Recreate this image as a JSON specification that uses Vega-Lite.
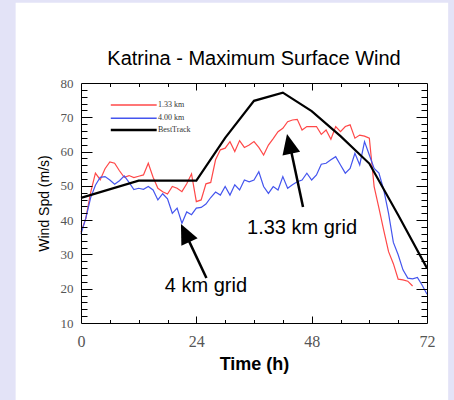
{
  "$schema": "https://vega.github.io/schema/vega-lite/v6.json",
  "width": 346,
  "height": 240,
  "autosize": "none",
  "padding": {"left": 81, "top": 83, "right": 27, "bottom": 77},
  "background": "#e3e3f7",
  "config": {"view": {"stroke": null}},
  "title": {"text": "Katrina - Maximum Surface Wind", "font": "Liberation Sans", "fontSize": 20, "fontWeight": "normal", "color": "#000", "anchor": "middle", "frame": "group", "baseline": "alphabetic", "offset": -82},
  "data": {"values": [
    {"h":0,"s":"1.33 km","v":36.5},{"h":1,"s":"1.33 km","v":40.5},{"h":2,"s":"1.33 km","v":48},{"h":3,"s":"1.33 km","v":53.7},{"h":4,"s":"1.33 km","v":51.8},{"h":5,"s":"1.33 km","v":55},{"h":6,"s":"1.33 km","v":57},{"h":7,"s":"1.33 km","v":56.6},{"h":8,"s":"1.33 km","v":54.4},{"h":9,"s":"1.33 km","v":52.5},{"h":10,"s":"1.33 km","v":53},{"h":11,"s":"1.33 km","v":52.4},{"h":12,"s":"1.33 km","v":52.8},{"h":13,"s":"1.33 km","v":53.2},{"h":14,"s":"1.33 km","v":56.6},{"h":15,"s":"1.33 km","v":52.5},{"h":16,"s":"1.33 km","v":49.3},{"h":17,"s":"1.33 km","v":48.3},{"h":18,"s":"1.33 km","v":47.6},{"h":19,"s":"1.33 km","v":49.8},{"h":20,"s":"1.33 km","v":49.3},{"h":21,"s":"1.33 km","v":48.3},{"h":22,"s":"1.33 km","v":50.6},{"h":23,"s":"1.33 km","v":53.5},{"h":24,"s":"1.33 km","v":45.4},{"h":25,"s":"1.33 km","v":45.9},{"h":26,"s":"1.33 km","v":50.6},{"h":27,"s":"1.33 km","v":51},{"h":28,"s":"1.33 km","v":57.6},{"h":29,"s":"1.33 km","v":60.5},{"h":30,"s":"1.33 km","v":61},{"h":31,"s":"1.33 km","v":62.9},{"h":32,"s":"1.33 km","v":60},{"h":33,"s":"1.33 km","v":63.2},{"h":34,"s":"1.33 km","v":61.2},{"h":35,"s":"1.33 km","v":61.9},{"h":36,"s":"1.33 km","v":62.9},{"h":37,"s":"1.33 km","v":61.2},{"h":38,"s":"1.33 km","v":59},{"h":39,"s":"1.33 km","v":61.9},{"h":40,"s":"1.33 km","v":63.8},{"h":41,"s":"1.33 km","v":65.8},{"h":42,"s":"1.33 km","v":66.8},{"h":43,"s":"1.33 km","v":68.7},{"h":44,"s":"1.33 km","v":69.2},{"h":45,"s":"1.33 km","v":69.4},{"h":46,"s":"1.33 km","v":66.3},{"h":47,"s":"1.33 km","v":67.3},{"h":48,"s":"1.33 km","v":67.3},{"h":49,"s":"1.33 km","v":67.3},{"h":50,"s":"1.33 km","v":65},{"h":51,"s":"1.33 km","v":66.3},{"h":52,"s":"1.33 km","v":63.6},{"h":53,"s":"1.33 km","v":67.3},{"h":54,"s":"1.33 km","v":65.8},{"h":55,"s":"1.33 km","v":67.3},{"h":56,"s":"1.33 km","v":67.8},{"h":57,"s":"1.33 km","v":63.9},{"h":58,"s":"1.33 km","v":64.8},{"h":59,"s":"1.33 km","v":64.5},{"h":60,"s":"1.33 km","v":63.9},{"h":61,"s":"1.33 km","v":49.8},{"h":62,"s":"1.33 km","v":43.5},{"h":63,"s":"1.33 km","v":37},{"h":64,"s":"1.33 km","v":30.8},{"h":65,"s":"1.33 km","v":27.3},{"h":66,"s":"1.33 km","v":22.8},{"h":67,"s":"1.33 km","v":22.6},{"h":68,"s":"1.33 km","v":22.2},{"h":69,"s":"1.33 km","v":20.8},
    {"h":0,"s":"4.00 km","v":36},{"h":1,"s":"4.00 km","v":40.5},{"h":2,"s":"4.00 km","v":46.5},{"h":3,"s":"4.00 km","v":50.2},{"h":4,"s":"4.00 km","v":52.5},{"h":5,"s":"4.00 km","v":52.7},{"h":6,"s":"4.00 km","v":51.7},{"h":7,"s":"4.00 km","v":50.5},{"h":8,"s":"4.00 km","v":51.5},{"h":9,"s":"4.00 km","v":52.9},{"h":10,"s":"4.00 km","v":51},{"h":11,"s":"4.00 km","v":48.9},{"h":12,"s":"4.00 km","v":49.3},{"h":13,"s":"4.00 km","v":49},{"h":14,"s":"4.00 km","v":49.8},{"h":15,"s":"4.00 km","v":48.8},{"h":16,"s":"4.00 km","v":45.9},{"h":17,"s":"4.00 km","v":47.7},{"h":18,"s":"4.00 km","v":46.2},{"h":19,"s":"4.00 km","v":42},{"h":20,"s":"4.00 km","v":43.5},{"h":21,"s":"4.00 km","v":39.1},{"h":22,"s":"4.00 km","v":42.4},{"h":23,"s":"4.00 km","v":41.6},{"h":24,"s":"4.00 km","v":43.5},{"h":25,"s":"4.00 km","v":43.7},{"h":26,"s":"4.00 km","v":44.7},{"h":27,"s":"4.00 km","v":46.6},{"h":28,"s":"4.00 km","v":48.2},{"h":29,"s":"4.00 km","v":47.3},{"h":30,"s":"4.00 km","v":49.8},{"h":31,"s":"4.00 km","v":47.3},{"h":32,"s":"4.00 km","v":50.3},{"h":33,"s":"4.00 km","v":48.8},{"h":34,"s":"4.00 km","v":51.7},{"h":35,"s":"4.00 km","v":51.2},{"h":36,"s":"4.00 km","v":51.7},{"h":37,"s":"4.00 km","v":54.1},{"h":38,"s":"4.00 km","v":49.8},{"h":39,"s":"4.00 km","v":47.8},{"h":40,"s":"4.00 km","v":49.8},{"h":41,"s":"4.00 km","v":48.8},{"h":42,"s":"4.00 km","v":52.7},{"h":43,"s":"4.00 km","v":49.3},{"h":44,"s":"4.00 km","v":50.3},{"h":45,"s":"4.00 km","v":51.2},{"h":46,"s":"4.00 km","v":51.7},{"h":47,"s":"4.00 km","v":53.7},{"h":48,"s":"4.00 km","v":51.7},{"h":49,"s":"4.00 km","v":53.2},{"h":50,"s":"4.00 km","v":56.3},{"h":51,"s":"4.00 km","v":56.6},{"h":52,"s":"4.00 km","v":57.6},{"h":53,"s":"4.00 km","v":58.5},{"h":54,"s":"4.00 km","v":56.1},{"h":55,"s":"4.00 km","v":53.7},{"h":56,"s":"4.00 km","v":55.1},{"h":57,"s":"4.00 km","v":59.5},{"h":58,"s":"4.00 km","v":56.1},{"h":59,"s":"4.00 km","v":62.9},{"h":60,"s":"4.00 km","v":59},{"h":61,"s":"4.00 km","v":55.1},{"h":62,"s":"4.00 km","v":53.7},{"h":63,"s":"4.00 km","v":48.8},{"h":64,"s":"4.00 km","v":42},{"h":65,"s":"4.00 km","v":33.5},{"h":66,"s":"4.00 km","v":29.9},{"h":67,"s":"4.00 km","v":25.5},{"h":68,"s":"4.00 km","v":23.1},{"h":69,"s":"4.00 km","v":22.9},{"h":70,"s":"4.00 km","v":23.3},{"h":71,"s":"4.00 km","v":21},{"h":72,"s":"4.00 km","v":18.4},
    {"h":0,"s":"BestTrack","v":46.5},{"h":12,"s":"BestTrack","v":51.5},{"h":24,"s":"BestTrack","v":51.5},{"h":30,"s":"BestTrack","v":64},{"h":36,"s":"BestTrack","v":74.8},{"h":42,"s":"BestTrack","v":77.2},{"h":48,"s":"BestTrack","v":71.8},{"h":54,"s":"BestTrack","v":64.5},{"h":60,"s":"BestTrack","v":56.5},{"h":66,"s":"BestTrack","v":41.5},{"h":72,"s":"BestTrack","v":26}
  ]},
  "resolve": {"axis": {"x": "independent", "y": "independent"}},
  "layer": [
    {
      "data": {"values": [{}]},
      "mark": {"type": "rect", "color": "#ffffff"},
      "encoding": {
        "x": {"datum": -13.6, "type": "quantitative", "scale": {"domain": [0, 72], "nice": false, "zero": false}, "axis": null},
        "x2": {"datum": 76.4},
        "y": {"datum": 103.4, "type": "quantitative", "scale": {"domain": [10, 80], "nice": false, "zero": false}, "axis": null},
        "y2": {"datum": -13}
      }
    },
    {
      "transform": [{"filter": "datum.s === '1.33 km'"}],
      "mark": {"type": "line", "color": "#ff4848", "strokeWidth": 1.2},
      "encoding": {
        "x": {"field": "h", "type": "quantitative", "scale": {"domain": [0, 72], "nice": false, "zero": false},
          "axis": {"orient": "bottom", "values": [0, 24, 48, 72], "format": "d", "ticks": false, "domain": true, "domainColor": "#000", "domainWidth": 1, "grid": false, "zindex": 1, "labelFont": "Liberation Serif", "labelFontSize": 16, "labelColor": "#555", "labelPadding": 10, "labelFlush": false, "labelOverlap": false, "title": "Time (h)", "titleFont": "Liberation Sans", "titleFontSize": 18, "titleFontWeight": "bold", "titleColor": "#000", "titlePadding": 6}},
        "y": {"field": "v", "type": "quantitative", "scale": {"domain": [10, 80], "nice": false, "zero": false},
          "axis": {"orient": "left", "values": [10, 20, 30, 40, 50, 60, 70, 80], "format": "d", "ticks": false, "domain": true, "domainColor": "#000", "domainWidth": 1, "grid": false, "zindex": 1, "labelFont": "Liberation Serif", "labelFontSize": 13, "labelColor": "#555", "labelPadding": 8, "labelFlush": false, "labelOverlap": false, "title": "Wind Spd (m/s)", "titleFont": "Liberation Sans", "titleFontSize": 14, "titleFontWeight": "normal", "titleColor": "#000", "titlePadding": 9}}
      }
    },
    {
      "transform": [{"filter": "datum.s === '4.00 km'"}],
      "mark": {"type": "line", "color": "#4455ee", "strokeWidth": 1.2},
      "encoding": {
        "x": {"field": "h", "type": "quantitative", "scale": {"domain": [0, 72], "nice": false, "zero": false},
          "axis": {"orient": "bottom", "values": [24, 48], "labels": false, "domain": false, "ticks": true, "tickSize": -7, "tickColor": "#000", "tickWidth": 1, "grid": false, "zindex": 1, "title": null}},
        "y": {"field": "v", "type": "quantitative", "scale": {"domain": [10, 80], "nice": false, "zero": false},
          "axis": {"orient": "left", "values": [20, 30, 40, 50, 60, 70], "labels": false, "domain": false, "ticks": true, "tickSize": -11, "tickColor": "#000", "tickWidth": 1, "grid": false, "zindex": 1, "title": null}}
      }
    },
    {
      "transform": [{"filter": "datum.s === 'BestTrack'"}],
      "mark": {"type": "line", "color": "#000000", "strokeWidth": 2.2},
      "encoding": {
        "x": {"field": "h", "type": "quantitative", "scale": {"domain": [0, 72], "nice": false, "zero": false},
          "axis": {"orient": "bottom", "values": [6, 12, 18, 30, 36, 42, 54, 60, 66], "labels": false, "domain": false, "ticks": true, "tickSize": -3.5, "tickColor": "#000", "tickWidth": 1, "grid": false, "zindex": 1, "title": null}},
        "y": {"field": "v", "type": "quantitative", "scale": {"domain": [10, 80], "nice": false, "zero": false},
          "axis": {"orient": "left", "values": [12, 14, 16, 18, 22, 24, 26, 28, 32, 34, 36, 38, 42, 44, 46, 48, 52, 54, 56, 58, 62, 64, 66, 68, 72, 74, 76, 78], "labels": false, "domain": false, "ticks": true, "tickSize": -6, "tickColor": "#000", "tickWidth": 1, "grid": false, "zindex": 1, "title": null}}
      }
    },
    {
      "data": {"values": [{}]},
      "mark": {"type": "text", "text": "1.33 km grid", "font": "Liberation Sans", "fontSize": 20, "color": "#000", "align": "center", "baseline": "middle"},
      "encoding": {
        "x": {"datum": 46.0, "type": "quantitative", "scale": {"domain": [0, 72], "nice": false, "zero": false},
          "axis": {"orient": "top", "values": [24, 48], "labels": false, "domain": true, "domainColor": "#000", "domainWidth": 1, "ticks": true, "tickSize": -7, "tickColor": "#000", "tickWidth": 1, "grid": false, "zindex": 1, "title": null}},
        "y": {"datum": 37.7, "type": "quantitative", "scale": {"domain": [10, 80], "nice": false, "zero": false},
          "axis": {"orient": "right", "values": [20, 30, 40, 50, 60, 70], "labels": false, "domain": true, "domainColor": "#000", "domainWidth": 1, "ticks": true, "tickSize": -11, "tickColor": "#000", "tickWidth": 1, "grid": false, "zindex": 1, "title": null}}
      }
    },
    {
      "data": {"values": [{}]},
      "mark": {"type": "text", "text": "4 km grid", "font": "Liberation Sans", "fontSize": 20, "color": "#000", "align": "center", "baseline": "middle"},
      "encoding": {
        "x": {"datum": 26.0, "type": "quantitative", "scale": {"domain": [0, 72], "nice": false, "zero": false},
          "axis": {"orient": "top", "values": [6, 12, 18, 30, 36, 42, 54, 60, 66], "labels": false, "domain": false, "ticks": true, "tickSize": -3.5, "tickColor": "#000", "tickWidth": 1, "grid": false, "zindex": 1, "title": null}},
        "y": {"datum": 20.8, "type": "quantitative", "scale": {"domain": [10, 80], "nice": false, "zero": false},
          "axis": {"orient": "right", "values": [12, 14, 16, 18, 22, 24, 26, 28, 32, 34, 36, 38, 42, 44, 46, 48, 52, 54, 56, 58, 62, 64, 66, 68, 72, 74, 76, 78], "labels": false, "domain": false, "ticks": true, "tickSize": -6, "tickColor": "#000", "tickWidth": 1, "grid": false, "zindex": 1, "title": null}}
      }
    },
    {
      "data": {"values": [{}]},
      "mark": {"type": "rule", "color": "#000", "strokeWidth": 2.5},
      "encoding": {
        "x": {"datum": 46.2, "type": "quantitative", "axis": null},
        "x2": {"datum": 43.3},
        "y": {"datum": 43.8, "type": "quantitative", "axis": null},
        "y2": {"datum": 63}
      }
    },
    {
      "data": {"values": [{}]},
      "mark": {"type": "rule", "color": "#000", "strokeWidth": 2.5},
      "encoding": {
        "x": {"datum": 26.1, "type": "quantitative", "axis": null},
        "x2": {"datum": 21.5},
        "y": {"datum": 23.1, "type": "quantitative", "axis": null},
        "y2": {"datum": 36.8}
      }
    },
    {
      "data": {"values": [{}]},
      "mark": {"type": "point", "shape": "M0,0L-0.45,1L0.45,1Z", "size": 1600, "filled": true, "color": "#000", "opacity": 1, "strokeWidth": 0, "angle": 347.6},
      "encoding": {
        "x": {"datum": 42.87, "type": "quantitative", "axis": null},
        "y": {"datum": 65.1, "type": "quantitative", "axis": null}
      }
    },
    {
      "data": {"values": [{}]},
      "mark": {"type": "point", "shape": "M0,0L-0.45,1L0.45,1Z", "size": 1600, "filled": true, "color": "#000", "opacity": 1, "strokeWidth": 0, "angle": 334.7},
      "encoding": {
        "x": {"datum": 20.8, "type": "quantitative", "axis": null},
        "y": {"datum": 38.9, "type": "quantitative", "axis": null}
      }
    },
    {
      "data": {"values": [{}]},
      "mark": {"type": "rule", "color": "#ff4848", "strokeWidth": 1.5},
      "encoding": {"x": {"datum": 6.2, "type": "quantitative", "axis": null}, "x2": {"datum": 15.75}, "y": {"datum": 73.6, "type": "quantitative", "axis": null}}
    },
    {
      "data": {"values": [{}]},
      "mark": {"type": "rule", "color": "#4455ee", "strokeWidth": 1.5},
      "encoding": {"x": {"datum": 6.2, "type": "quantitative", "axis": null}, "x2": {"datum": 15.75}, "y": {"datum": 69.7, "type": "quantitative", "axis": null}}
    },
    {
      "data": {"values": [{}]},
      "mark": {"type": "rule", "color": "#000", "strokeWidth": 2.5},
      "encoding": {"x": {"datum": 6.2, "type": "quantitative", "axis": null}, "x2": {"datum": 15.75}, "y": {"datum": 66.3, "type": "quantitative", "axis": null}}
    },
    {
      "data": {"values": [{"label": "1.33 km", "k": 73.6}, {"label": "4.00 km", "k": 69.7}, {"label": "BestTrack", "k": 66.3}]},
      "mark": {"type": "text", "font": "Liberation Serif", "fontSize": 8, "color": "#333", "align": "left", "baseline": "middle"},
      "encoding": {
        "x": {"datum": 16.0, "type": "quantitative", "axis": null},
        "y": {"field": "k", "type": "quantitative", "axis": null},
        "text": {"field": "label"}
      }
    }
  ]
}
